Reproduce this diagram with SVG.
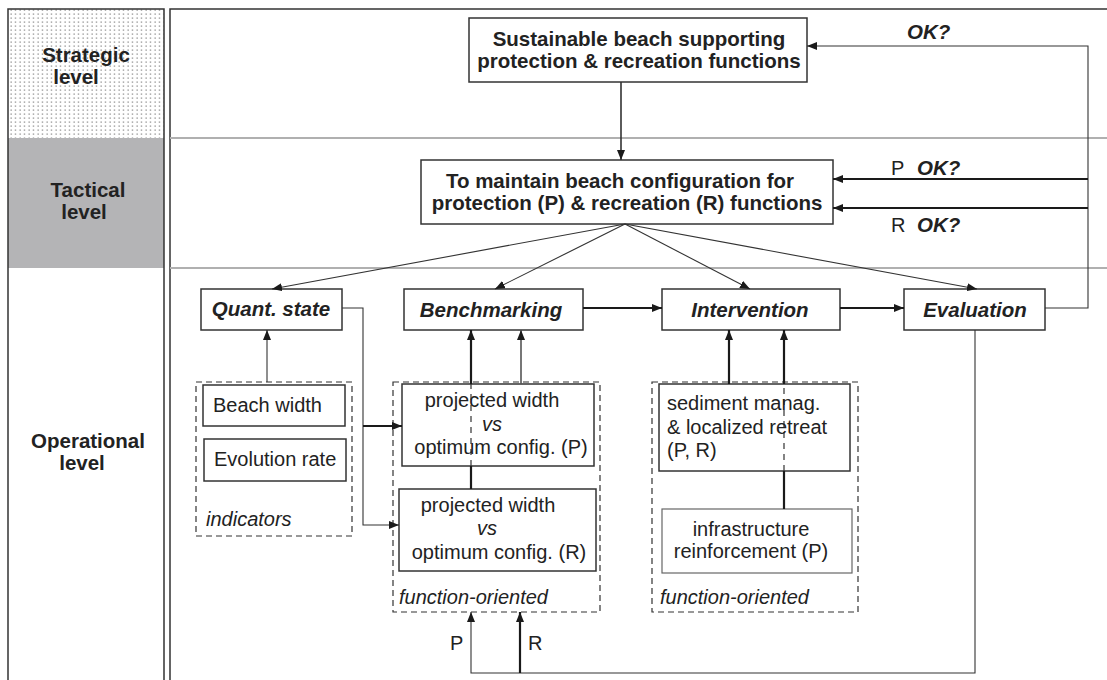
<svg xmlns="http://www.w3.org/2000/svg" width="1107" height="680" viewBox="0 0 1107 680">
<style>
text{font-family:"Liberation Sans",Arial,sans-serif;fill:#222}
.b{font-weight:bold;font-size:20.5px}
.bi{font-weight:bold;font-style:italic;font-size:20.5px}
.n{font-size:20px}
.i{font-style:italic;font-size:20px}
.box{fill:#fff;stroke:#333;stroke-width:1.5}
.dash{fill:none;stroke:#333;stroke-width:1.2;stroke-dasharray:6 4}
.thin{fill:none;stroke:#333;stroke-width:1.1}
.thick{fill:none;stroke:#1a1a1a;stroke-width:2.2}
.dl{fill:none;stroke:#333;stroke-width:1.2;stroke-dasharray:6 5}
.sep{stroke:#b0b0b0;stroke-width:2}
.frame{fill:none;stroke:#333;stroke-width:1.5}
</style>
<defs>
<pattern id="dots" width="4.5" height="4" patternUnits="userSpaceOnUse">
<rect width="4.5" height="4" fill="#fff"/>
<rect x="1.5" y="1.5" width="1.2" height="1.2" fill="#777"/>
</pattern>
<marker id="ah" viewBox="0 0 10 8" refX="10" refY="4" markerWidth="10" markerHeight="8" markerUnits="userSpaceOnUse" orient="auto">
<path d="M0,0 L10,4 L0,8 z" fill="#1a1a1a"/>
</marker>
</defs>
<g id="levels">
<rect x="8" y="9" width="156" height="129" fill="url(#dots)"/>
<rect x="8" y="138" width="156" height="130" fill="#b4b4b6"/>
<path class="frame" d="M8,690 V9 H164 V690"/>
<path class="frame" d="M170,690 V9 H1107"/>
<line class="sep" x1="170" y1="138" x2="1107" y2="138"/>
<line class="sep" x1="170" y1="268" x2="1107" y2="268"/>
<text class="b" x="86" y="62" text-anchor="middle" font-size="20">Strategic</text>
<text class="b" x="76" y="84" text-anchor="middle">level</text>
<text class="b" x="88" y="197" text-anchor="middle">Tactical</text>
<text class="b" x="84" y="219" text-anchor="middle">level</text>
<text class="b" x="88" y="448" text-anchor="middle">Operational</text>
<text class="b" x="82" y="470" text-anchor="middle">level</text>
</g>
<g id="strategic">
<rect class="box" x="469" y="18" width="338" height="64"/>
<text class="b" x="639" y="46" text-anchor="middle">Sustainable beach supporting</text>
<text class="b" x="639" y="68" text-anchor="middle">protection &amp; recreation functions</text>
</g>
<g id="tactical">
<rect class="box" x="421" y="160" width="412" height="64"/>
<text class="b" x="620" y="188" text-anchor="middle">To maintain beach configuration for</text>
<text class="b" x="627" y="210" text-anchor="middle">protection (P) &amp; recreation (R) functions</text>
</g>
<g id="quant">
<rect class="box" x="201" y="289" width="141" height="41"/>
<text class="bi" x="271" y="316" text-anchor="middle">Quant. state</text>
</g>
<g id="bench">
<rect class="box" x="404" y="289" width="179" height="41"/>
<text class="bi" x="491" y="317" text-anchor="middle">Benchmarking</text>
</g>
<g id="interv">
<rect class="box" x="662" y="289" width="178" height="41"/>
<text class="bi" x="750" y="317" text-anchor="middle">Intervention</text>
</g>
<g id="eval">
<rect class="box" x="904" y="289" width="141" height="41"/>
<text class="bi" x="975" y="317" text-anchor="middle">Evaluation</text>
</g>
<g id="indicators">
<rect class="dash" x="196" y="382" width="156" height="154"/>
<rect class="box" x="203" y="385" width="142" height="41"/>
<text class="n" x="213" y="412">Beach width</text>
<rect class="box" x="204" y="439" width="142" height="42"/>
<text class="n" x="214" y="466">Evolution rate</text>
<text class="i" x="206" y="526">indicators</text>
</g>
<g id="bench-inputs">
<rect class="dash" x="393" y="382" width="207" height="230"/>
<rect class="box" x="402" y="384" width="192" height="82"/>
<rect class="box" x="399" y="489" width="197" height="82"/>
<text class="i" x="399" y="604">function-oriented</text>
</g>
<g id="interv-inputs">
<rect class="dash" x="652" y="382" width="206" height="230"/>
<rect class="box" x="659" y="384" width="191" height="87"/>
<rect class="box" x="662" y="509" width="190" height="64" style="stroke:#666;stroke-width:1.2"/>
<text class="i" x="660" y="604">function-oriented</text>
</g>
<g id="connectors">
<line x1="621" y1="82" x2="621" y2="160" class="thin" style="stroke-width:1.6" marker-end="url(#ah)"/>
<line x1="625" y1="224" x2="272" y2="289" class="thin" marker-end="url(#ah)"/>
<line x1="625" y1="224" x2="495" y2="289" class="thin" marker-end="url(#ah)"/>
<line x1="625" y1="224" x2="750" y2="289" class="thin" marker-end="url(#ah)"/>
<line x1="625" y1="224" x2="977" y2="289" class="thin" marker-end="url(#ah)"/>
<path class="thin" d="M1045,308 H1088 V46 H807" marker-end="url(#ah)"/>
<path class="thick" d="M1088,179 H833" marker-end="url(#ah)"/>
<path class="thick" d="M1088,208 H833" marker-end="url(#ah)"/>
<path class="thick" d="M583,308 H662" marker-end="url(#ah)"/>
<path class="thick" d="M840,308 H904" marker-end="url(#ah)"/>
<path class="thin" d="M342,308 H363 V525 H399" marker-end="url(#ah)"/>
<path class="thick" d="M363,426 H402" marker-end="url(#ah)"/>
<path class="thin" d="M267,382 V330" marker-end="url(#ah)"/>
<path class="thick" d="M471,489 V466"/>
<path class="dl" d="M471,466 V384"/>
<path class="thick" d="M471,384 V330" marker-end="url(#ah)"/>
<path class="thin" d="M521,384 V330" style="stroke:#555;stroke-width:1.6" marker-end="url(#ah)"/>
<path class="thick" d="M729,384 V330" marker-end="url(#ah)"/>
<path class="thick" d="M784,509 V471"/>
<path class="dl" d="M784,471 V384"/>
<path class="thick" d="M784,384 V330" marker-end="url(#ah)"/>
<path class="thin" d="M975,330 V673 H471 V612" marker-end="url(#ah)"/>
<path class="thick" d="M520,673 V612" marker-end="url(#ah)"/>
</g>
<g id="labels">
<text class="n" x="492" y="407" text-anchor="middle">projected width</text>
<text class="i" x="492" y="431" text-anchor="middle">vs</text>
<text class="n" x="501" y="454" text-anchor="middle">optimum config. (P)</text>
<text class="n" x="488" y="512" text-anchor="middle">projected width</text>
<text class="i" x="487" y="535" text-anchor="middle">vs</text>
<text class="n" x="499" y="559" text-anchor="middle">optimum config. (R)</text>
<text class="n" x="667" y="410">sediment manag.</text>
<text class="n" x="667" y="434">&amp; localized retreat</text>
<text class="n" x="667" y="457">(P, R)</text>
<text class="n" x="751" y="536" text-anchor="middle">infrastructure</text>
<text class="n" x="751" y="558" text-anchor="middle">reinforcement (P)</text>
<text class="bi" x="907" y="39" font-size="20">OK?</text>
<text class="n" x="891" y="175">P</text>
<text class="bi" x="917" y="175">OK?</text>
<text class="n" x="891" y="232">R</text>
<text class="bi" x="917" y="232">OK?</text>
<text class="n" x="450" y="650">P</text>
<text class="n" x="528" y="650">R</text>
</g>
</svg>
